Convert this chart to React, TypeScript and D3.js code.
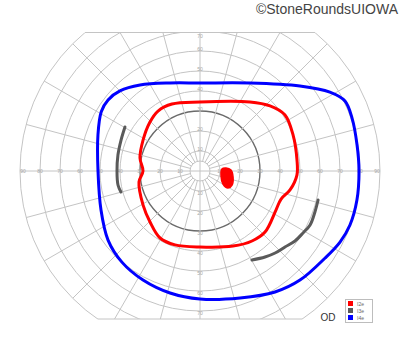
import React from "react";
import * as d3 from "d3";

// Isopters as [angle (deg, 0 = right, counter-clockwise), eccentricity (deg)]
const isopterI4e: [number, number][] = [
  [90, 44], [60.4, 50.6], [40.4, 65.6], [31.3, 76], [25.8, 80.5], [19.2, 80.5],
  [9.4, 79.6], [0, 79.5], [-10.5, 79.8], [-19.8, 79.7], [-26.9, 78.5], [-34.8, 76.2],
  [-47.5, 74], [-58.2, 71.2], [-72.5, 66.6], [-90, 64], [-103.8, 62.8], [-117.6, 61.5],
  [-130.6, 60], [-143.1, 57.5], [-158.5, 53.2], [180, 51], [160.6, 54.1], [149, 57.6],
  [142.3, 58.1], [135, 56.6], [124.9, 52.4], [108.8, 46.5],
];

const isopterI2e: [number, number][] = [
  [90, 34.5], [54.1, 42.6], [42.9, 47.8], [33.4, 50.9], [21.2, 49.9], [6.5, 48.8],
  [-2.4, 48.5], [-11.9, 46], [-19.1, 42.9], [-27.2, 42.7], [-43.2, 44.6], [-53.4, 43.6],
  [-66.3, 41], [-90, 38], [-108.7, 39], [-120.8, 39], [-134.4, 35.7], [-149, 33.2],
  [-169.8, 31], [180, 28.5], [167.8, 30.7], [151.5, 32.4], [135.6, 35], [125, 36.6],
  [112.7, 36.3],
];

const blindSpotI2e: [number, number][] = [
  [6.6, 13.1], [1.8, 15.5], [-10.3, 16.8], [-23.6, 17.5], [-31.3, 16.4],
  [-29.5, 13.2], [-13.4, 10.8], [5.2, 11.0],
];

const segmentI3eNasal: [number, number][] = [
  [149.6, 43.5], [158.6, 42.4], [169, 41.8], [180, 41.5], [-170.3, 41.6], [-165.1, 40.9],
];

const segmentI3eInferior: [number, number][] = [
  [-13.8, 60.8], [-19.6, 61], [-26.1, 61.3], [-31, 60.1], [-36.4, 59], [-41.8, 57],
  [-47.5, 55.6], [-52.9, 53.9], [-59.7, 51.5],
];

const ringDegrees = [5, 10, 20, 30, 40, 50, 60, 70, 80, 90];
const spokeAngles = d3.range(0, 360, 15);
const horizontalLabels = [10, 20, 30, 40, 50, 60, 70, 80, 90];
const verticalLabels = [10, 20, 30, 40, 50, 60, 70];

const legendNames = ["I2e", "I3e", "I4e"];
const legendColors = ["#ff0000", "#5a5a5a", "#0000ff"];

const W = 400;
const H = 352;
const cx = 200;
const cy = 171;
const clipTop = 32.5;
const clipBottom = 319;

export default function App() {
  const r = d3.scaleLinear().domain([0, 90]).range([0, 180]);
  const toXY = ([a, e]: [number, number]): [number, number] => {
    const rad = (a * Math.PI) / 180;
    return [cx + r(e) * Math.cos(rad), cy - r(e) * Math.sin(rad)];
  };
  const closed = d3.line<[number, number]>().curve(d3.curveCatmullRomClosed.alpha(0.5));
  const open = d3.line<[number, number]>().curve(d3.curveCatmullRom.alpha(0.5));

  const R = r(90);
  const dyTop = cy - clipTop;
  const dyBot = clipBottom - cy;
  const dxTop = Math.sqrt(R * R - dyTop * dyTop);
  const dxBot = Math.sqrt(R * R - dyBot * dyBot);

  const grid = "#c4c4c4";
  const labelColor = "#a8a8a8";

  return (
    <svg width={W} height={H} style={{ position: "absolute", left: 0, top: 0, background: "#fff" }}>
      <defs>
        <clipPath id="field">
          <rect x={0} y={clipTop} width={W} height={clipBottom - clipTop} />
        </clipPath>
      </defs>
      <g clipPath="url(#field)">
        {ringDegrees.map((d) => (
          <circle key={d} cx={cx} cy={cy} r={r(d)} fill="none"
            stroke={d === 30 ? "#6a6a6a" : grid} strokeWidth={d === 30 ? 1.4 : 1} />
        ))}
        {spokeAngles.map((a) => {
          const rad = (a * Math.PI) / 180;
          const inner = a % 90 === 0 ? 0 : r(5);
          return (
            <line key={a}
              x1={cx + inner * Math.cos(rad)} y1={cy - inner * Math.sin(rad)}
              x2={cx + R * Math.cos(rad)} y2={cy - R * Math.sin(rad)}
              stroke={grid} strokeWidth={1} />
          );
        })}
      </g>
      <line x1={cx - dxTop} x2={cx + dxTop} y1={clipTop} y2={clipTop} stroke={grid} strokeWidth={1} />
      <line x1={cx - dxBot} x2={cx + dxBot} y1={clipBottom} y2={clipBottom} stroke={grid} strokeWidth={1} />

      <g fontFamily="Liberation Sans, Arial, sans-serif" fontSize={5} fill={labelColor} textAnchor="middle">
        {horizontalLabels.map((d) => {
          const off = d === 90 ? -3 : 0;
          return (
            <React.Fragment key={d}>
              <text x={cx + r(d) + off} y={cy + 1.8}>{d}</text>
              <text x={cx - r(d) - off} y={cy + 1.8}>{d}</text>
            </React.Fragment>
          );
        })}
        {verticalLabels.map((d) => {
          const top = Math.max(cy - r(d) - 2, 36);
          const bot = Math.min(cy + r(d) + 2, 316);
          return (
            <React.Fragment key={d}>
              <text x={cx} y={top + 1.8}>{d}</text>
              <text x={cx} y={bot + 1.8}>{d}</text>
            </React.Fragment>
          );
        })}
      </g>

      <path d={open(segmentI3eNasal.map(toXY)) || ""} fill="none" stroke={legendColors[1]} strokeWidth={3} strokeLinecap="round" />
      <path d={open(segmentI3eInferior.map(toXY)) || ""} fill="none" stroke={legendColors[1]} strokeWidth={3} strokeLinecap="round" />
      <path d={closed(isopterI2e.map(toXY)) || ""} fill="none" stroke={legendColors[0]} strokeWidth={3} />
      <path d={closed(blindSpotI2e.map(toXY)) || ""} fill={legendColors[0]} stroke={legendColors[0]} strokeWidth={1.5} />
      <path d={closed(isopterI4e.map(toXY)) || ""} fill="none" stroke={legendColors[2]} strokeWidth={3} />

      <text x={328} y={321} fontFamily="Liberation Sans, Arial, sans-serif" fontSize={10} fill="#333" textAnchor="middle">OD</text>

      <g>
        <rect x={345.5} y={299.5} width={27} height={23} fill="#fff" stroke="#bdbdbd" strokeWidth={1} />
        {legendNames.map((n, i) => (
          <g key={n}>
            <rect x={348} y={301 + i * 7} width={5} height={5} fill={legendColors[i]} />
            <text x={357} y={305.5 + i * 7} fontFamily="Liberation Sans, Arial, sans-serif" fontSize={5} fill="#666">{n}</text>
          </g>
        ))}
      </g>

      <text x={398} y={13.5} fontFamily="Liberation Sans, Arial, sans-serif" fontSize={14} fill="#444" textAnchor="end">©StoneRoundsUIOWA</text>
    </svg>
  );
}
